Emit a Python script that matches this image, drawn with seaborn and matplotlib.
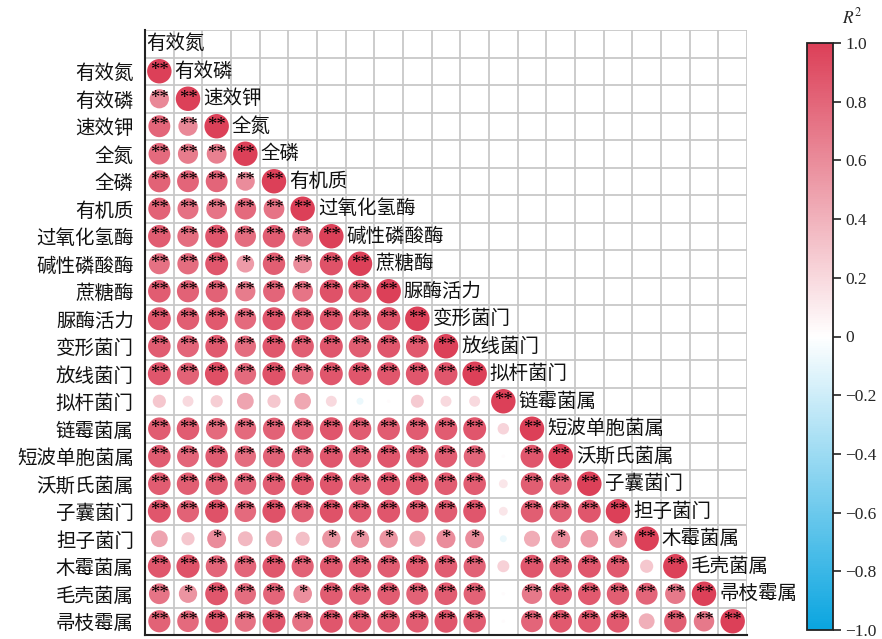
import numpy as np
import pandas as pd
import matplotlib
matplotlib.use("Agg")
import matplotlib.pyplot as plt
from matplotlib.colors import LinearSegmentedColormap, Normalize
import matplotlib.cm as cm
import seaborn as sns

labels = ["有效氮", "有效磷", "速效钾", "全氮", "全磷", "有机质", "过氧化氢酶", "碱性磷酸酶",
          "蔗糖酶", "脲酶活力", "变形菌门", "放线菌门", "拟杆菌门", "链霉菌属", "短波单胞菌属",
          "沃斯氏菌属", "子囊菌门", "担子菌门", "木霉菌属", "毛壳菌属", "帚枝霉属"]

# lower-triangle correlation values, row i has columns 0..i
r_rows = [
    [1.0],
    [0.62, 1.0],
    [0.80, 0.62, 1.0],
    [0.78, 0.68, 0.66, 1.0],
    [0.82, 0.80, 0.80, 0.60, 1.0],
    [0.82, 0.74, 0.72, 0.78, 0.72, 1.0],
    [0.85, 0.76, 0.88, 0.76, 0.85, 0.72, 1.0],
    [0.74, 0.76, 0.88, 0.52, 0.84, 0.60, 0.90, 1.0],
    [0.85, 0.82, 0.82, 0.68, 0.80, 0.72, 0.90, 0.88, 1.0],
    [0.88, 0.84, 0.86, 0.78, 0.88, 0.84, 0.88, 0.84, 0.90, 1.0],
    [0.85, 0.80, 0.86, 0.76, 0.88, 0.84, 0.88, 0.84, 0.88, 0.86, 1.0],
    [0.88, 0.82, 0.92, 0.78, 0.90, 0.78, 0.88, 0.88, 0.88, 0.88, 0.88, 1.0],
    [0.29, 0.20, 0.25, 0.47, 0.29, 0.46, 0.20, -0.08, 0.02, 0.28, 0.20, 0.20, 1.0],
    [0.85, 0.85, 0.78, 0.78, 0.82, 0.80, 0.88, 0.85, 0.85, 0.85, 0.85, 0.88, 0.22, 1.0],
    [0.85, 0.80, 0.85, 0.76, 0.82, 0.80, 0.88, 0.85, 0.88, 0.85, 0.85, 0.80, 0.02, 0.88, 1.0],
    [0.85, 0.84, 0.84, 0.80, 0.85, 0.86, 0.88, 0.82, 0.88, 0.86, 0.85, 0.85, 0.13, 0.84, 0.82, 1.0],
    [0.88, 0.82, 0.90, 0.78, 0.90, 0.82, 0.90, 0.85, 0.88, 0.85, 0.85, 0.88, 0.13, 0.84, 0.82, 0.88, 1.0],
    [0.47, 0.29, 0.60, 0.37, 0.46, 0.33, 0.56, 0.56, 0.56, 0.43, 0.60, 0.60, -0.08, 0.43, 0.60, 0.52, 0.56, 1.0],
    [0.88, 0.90, 0.80, 0.80, 0.88, 0.82, 0.86, 0.85, 0.85, 0.86, 0.85, 0.82, 0.24, 0.88, 0.85, 0.88, 0.86, 0.29, 1.0],
    [0.72, 0.56, 0.88, 0.76, 0.80, 0.58, 0.85, 0.82, 0.85, 0.82, 0.85, 0.82, 0.02, 0.70, 0.85, 0.86, 0.84, 0.80, 0.70, 1.0],
    [0.82, 0.78, 0.88, 0.74, 0.88, 0.74, 0.88, 0.85, 0.85, 0.85, 0.88, 0.85, 0.02, 0.80, 0.86, 0.86, 0.86, 0.42, 0.84, 0.70, 1.0],
]

# significance: 2 = "**", 1 = "*", 0 = none
sig_rows = [
    "2",
    "22",
    "222",
    "2222",
    "22222",
    "222222",
    "2222222",
    "22212222",
    "222222222",
    "2222222222",
    "22222222222",
    "222222222222",
    "0000000000002",
    "22222222222202",
    "222222222222022",
    "2222222222220222",
    "22222222222202222",
    "001000111011001012",
    "2222222222220222202",
    "21222122222202222222",
    "222222222222022220222",
]

cbar_ticks = [-1.0, -0.8, -0.6, -0.4, -0.2, 0.0, 0.2, 0.4, 0.6, 0.8, 1.0]

sns.set_style("white")
plt.rcParams["font.family"] = ["Noto Sans CJK SC", "DejaVu Sans"]
plt.rcParams["mathtext.fontset"] = "stix"

rows = []
for i, vals in enumerate(r_rows):
    for j, v in enumerate(vals):
        rows.append({"row": i, "col": j, "r": v, "a": abs(v), "sig": sig_rows[i][j]})
df = pd.DataFrame(rows)

cmap = LinearSegmentedColormap.from_list("rb", ["#0aa5e0", "#ffffff", "#dc4058"])

fig = plt.figure(figsize=(8.82, 6.39), dpi=100)
W, H = 882, 639
ax = fig.add_axes([145 / W, 4 / H, 602 / W, 605 / H])

n = len(labels)
for k in np.arange(-0.5, n, 1.0):
    ax.axvline(k, color="#c8c8c8", lw=1.3, zorder=0)
for k in np.arange(-1.5, n, 1.0):
    ax.axhline(k, color="#c8c8c8", lw=1.3, zorder=0)

sns.scatterplot(data=df, x="col", y="row", hue="r", palette=cmap, hue_norm=(-1, 1),
                size="a", sizes=(0, 310), size_norm=(0, 1), linewidth=0,
                legend=False, ax=ax, zorder=3)

star_txt = {"2": "**", "1": "*", "0": ""}
for _, rr in df.iterrows():
    s = star_txt[rr["sig"]]
    if s:
        ax.text(rr["col"], rr["row"] - 0.02, s, ha="center", va="center", fontsize=13.5,
                family="Liberation Serif", color="black", zorder=4)

for j, lab in enumerate(labels):
    ax.text(j - 0.47, j - 1, lab, ha="left", va="center", fontsize=14, color="#111111", zorder=5)

ax.set_xlim(-0.5, n - 0.5)
ax.set_ylim(n - 0.5, -1.5)
ax.set_xticks([])
ax.set_yticks(range(n))
ax.set_yticklabels(labels, fontsize=14, color="#111111")
ax.tick_params(axis="y", length=0, pad=8)
ax.set_xlabel("")
ax.set_ylabel("")
for side in ["top", "right"]:
    ax.spines[side].set_visible(False)
for side in ["left", "bottom"]:
    ax.spines[side].set_color("#222222")
    ax.spines[side].set_linewidth(1.5)

cax = fig.add_axes([807 / W, 9 / H, 26 / W, 587 / H])
sm = cm.ScalarMappable(norm=Normalize(-1, 1), cmap=cmap)
cb = fig.colorbar(sm, cax=cax, ticks=cbar_ticks)
tick_labels = []
for t in cbar_ticks:
    if abs(t) < 1e-9:
        tick_labels.append("0")
    else:
        tick_labels.append(f"{t:.1f}".replace("-", "\u2212"))
cb.ax.set_yticklabels(tick_labels, family="Liberation Serif", fontsize=12.5)
cb.ax.tick_params(direction="out", length=6, width=1.2, color="#222222", pad=3)
cb.outline.set_linewidth(1.3)
cb.outline.set_edgecolor("#222222")
fig.text(852 / W, 1 - 17 / H, "$R^2$", ha="center", va="center", fontsize=12.5)

fig.savefig("out.png", dpi=100)
